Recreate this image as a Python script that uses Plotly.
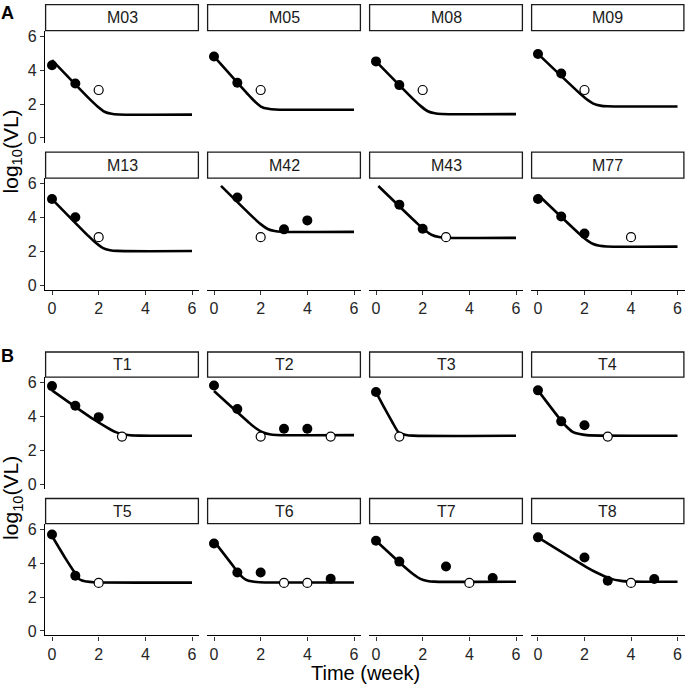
import plotly.graph_objects as go

# ---------------- data ----------------
SUBJECTS = ["M03", "M05", "M08", "M09", "M13", "M42", "M43", "M77",
            "T1", "T2", "T3", "T4", "T5", "T6", "T7", "T8"]

# observed log10 viral load (week, value, censored flag: 1 = below detection limit)
OBS_WEEK = [
    [0, 1, 2], [0, 1, 2], [0, 1, 2], [0, 1, 2],
    [0, 1, 2], [1, 2, 3, 4], [1, 2, 3], [0, 1, 2, 4],
    [0, 1, 2, 3], [0, 1, 2, 3, 4, 5], [0, 1], [0, 1, 2, 3],
    [0, 1, 2], [0, 1, 2, 3, 4, 5], [0, 1, 3, 4, 5], [0, 2, 3, 4, 5],
]
OBS_LOGVL = [
    [4.29, 3.22, 2.83], [4.81, 3.26, 2.83], [4.52, 3.12, 2.83], [4.96, 3.80, 2.83],
    [5.10, 4.03, 2.85], [5.19, 2.85, 3.31, 3.84], [4.77, 3.35, 2.85], [5.10, 4.07, 3.06, 2.85],
    [5.80, 4.64, 3.97, 2.82], [5.84, 4.45, 2.82, 3.29, 3.29, 2.82], [5.45, 2.82], [5.55, 3.72, 3.49, 2.82],
    [5.69, 3.26, 2.83], [5.16, 3.45, 3.45, 2.83, 2.83, 3.08], [5.32, 4.09, 3.80, 2.83, 3.12], [5.52, 4.33, 2.96, 2.83, 3.06],
]
OBS_CENSORED = [
    [0, 0, 1], [0, 0, 1], [0, 0, 1], [0, 0, 1],
    [0, 0, 1], [0, 1, 0, 0], [0, 0, 1], [0, 0, 0, 1],
    [0, 0, 0, 1], [0, 0, 1, 0, 0, 1], [0, 1], [0, 0, 0, 1],
    [0, 0, 1], [0, 0, 0, 1, 1, 0], [0, 0, 0, 1, 0], [0, 0, 0, 1, 0],
]

# fitted curves
CURVE_WEEK = [
    [0, 1.65, 1.95, 2.25, 2.55, 2.85, 6],
    [0, 1.43, 1.73, 2.03, 2.33, 2.63, 6],
    [0, 1.62, 1.92, 2.22, 2.52, 2.82, 6],
    [0, 1.78, 2.08, 2.38, 2.68, 2.98, 6],
    [0, 1.59, 1.89, 2.19, 2.49, 2.79, 6],
    [0.3, 1.7, 2.0, 2.3, 2.6, 2.9, 6],
    [0.1, 1.8, 2.1, 2.4, 2.7, 3.0, 6],
    [0, 1.75, 2.05, 2.35, 2.65, 2.95, 6],
    [0, 1.76, 2.26, 2.76, 3.26, 3.76, 6],
    [0, 1.48, 1.78, 2.08, 2.38, 2.68, 6],
    [0, 0.39, 0.69, 0.99, 1.29, 1.59, 6],
    [0, 0.89, 1.19, 1.49, 1.79, 2.09, 6],
    [0, 0.59, 0.89, 1.19, 1.49, 1.79, 6],
    [0, 0.76, 1.06, 1.36, 1.66, 1.96, 6],
    [0, 1.3, 1.6, 1.9, 2.2, 2.5, 6],
    [0, 2.08, 2.58, 3.08, 3.58, 4.08, 6],
]
CURVE_LOGVL = [
    [4.60, 2.25, 1.86, 1.55, 1.43, 1.39, 1.38],
    [4.81, 2.61, 2.18, 1.84, 1.72, 1.68, 1.67],
    [4.52, 2.26, 1.88, 1.58, 1.46, 1.42, 1.41],
    [4.96, 2.65, 2.30, 2.03, 1.91, 1.87, 1.86],
    [5.10, 2.88, 2.50, 2.20, 2.08, 2.04, 2.03],
    [5.88, 3.99, 3.62, 3.33, 3.21, 3.17, 3.16],
    [5.87, 3.62, 3.26, 2.98, 2.86, 2.82, 2.81],
    [5.35, 3.08, 2.73, 2.46, 2.34, 2.30, 2.29],
    [5.55, 3.86, 3.44, 3.07, 2.92, 2.88, 2.87],
    [5.51, 3.67, 3.33, 3.08, 2.96, 2.92, 2.91],
    [5.45, 4.44, 3.70, 3.04, 2.92, 2.88, 2.87],
    [5.55, 3.95, 3.46, 3.10, 2.97, 2.91, 2.87],
    [5.60, 4.25, 3.61, 3.03, 2.91, 2.87, 2.85],
    [5.30, 3.94, 3.40, 3.03, 2.91, 2.87, 2.86],
    [5.32, 3.68, 3.34, 3.07, 2.95, 2.91, 2.90],
    [5.52, 3.77, 3.40, 3.10, 2.95, 2.91, 2.90],
]

X_TICKS = [0, 2, 4, 6]
Y_TICKS = [0, 2, 4, 6]
X_TITLE = "Time (week)"
Y_TITLE = "log<sub>10</sub>(VL)"
SECTION_LABELS = ["A", "B"]

# ---------------- layout constants (pixels) ----------------
W, H = 685, 686
COL_X = [(45, 199), (207, 361), (369, 523), (531, 684.5)]
ROW_Y = [(28, 141), (177, 290), (378, 491), (526, 639)]
STRIP_Y = [(1, 28), (150, 177), (352, 378), (500, 526)]
FONT = "Liberation Sans, Arial, Helvetica, sans-serif"
TICK_COLOR = "#262626"


def px(x):
    return x / W


def py(y):
    return 1 - y / H


fig = go.Figure()
shapes, annotations = [], []

for i, name in enumerate(SUBJECTS):
    r, c = divmod(i, 4)
    k = i + 1
    xa = "x" if k == 1 else f"x{k}"
    ya = "y" if k == 1 else f"y{k}"

    fig.add_trace(go.Scatter(
        x=CURVE_WEEK[i], y=CURVE_LOGVL[i], mode="lines",
        line=dict(color="black", width=2.6, shape="spline", smoothing=0.8),
        xaxis=xa, yaxis=ya, showlegend=False, hoverinfo="skip"))

    fx = [t for t, cz in zip(OBS_WEEK[i], OBS_CENSORED[i]) if cz == 0]
    fy = [v for v, cz in zip(OBS_LOGVL[i], OBS_CENSORED[i]) if cz == 0]
    ox = [t for t, cz in zip(OBS_WEEK[i], OBS_CENSORED[i]) if cz == 1]
    oy = [v for v, cz in zip(OBS_LOGVL[i], OBS_CENSORED[i]) if cz == 1]
    fig.add_trace(go.Scatter(
        x=fx, y=fy, mode="markers",
        marker=dict(symbol="circle", size=10, color="black", line=dict(width=0)),
        xaxis=xa, yaxis=ya, showlegend=False, cliponaxis=False))
    fig.add_trace(go.Scatter(
        x=ox, y=oy, mode="markers",
        marker=dict(symbol="circle", size=9, color="white",
                    line=dict(width=1.2, color="black")),
        xaxis=xa, yaxis=ya, showlegend=False, cliponaxis=False))

    x0, x1 = COL_X[c]
    y0, y1 = ROW_Y[r]
    bottom_row = r in (1, 3)
    left_col = c == 0

    fig.update_layout(**{
        ("xaxis" if k == 1 else f"xaxis{k}"): dict(
            domain=[px(x0), px(x1)], range=[-0.3, 6.3], anchor=ya,
            showgrid=False, zeroline=False,
            showline=bottom_row, linecolor="black", linewidth=1.2,
            ticks="outside" if bottom_row else "", ticklen=4, tickwidth=1,
            tickcolor="#333333",
            showticklabels=bottom_row, tickvals=X_TICKS,
            tickfont=dict(family=FONT, size=16, color=TICK_COLOR)),
        ("yaxis" if k == 1 else f"yaxis{k}"): dict(
            domain=[py(y1), py(y0)], range=[-0.27, 6.33], anchor=xa,
            showgrid=False, zeroline=False,
            showline=left_col, linecolor="black", linewidth=1.2,
            ticks="outside" if left_col else "", ticklen=4, tickwidth=1,
            tickcolor="#333333",
            showticklabels=left_col, tickvals=Y_TICKS,
            tickfont=dict(family=FONT, size=16, color=TICK_COLOR)),
    })

    s0, s1 = STRIP_Y[r]
    shapes.append(dict(type="rect", xref="paper", yref="paper",
                       x0=px(x0 + 0.6), x1=px(x1 - 0.6), y0=py(s1), y1=py(s0 + 0.6),
                       line=dict(color="#1a1a1a", width=1.3), fillcolor="white"))
    annotations.append(dict(text=name, xref="paper", yref="paper",
                            x=px((x0 + x1) / 2), y=py((s0 + s1) / 2 + 0.5),
                            xanchor="center", yanchor="middle", showarrow=False,
                            font=dict(family=FONT, size=16, color="#1a1a1a")))

# section labels
for lab, ypx in zip(SECTION_LABELS, [10, 357]):
    annotations.append(dict(text=f"<b>{lab}</b>", xref="paper", yref="paper",
                            x=px(8), y=py(ypx), xanchor="center", yanchor="middle",
                            showarrow=False, font=dict(family=FONT, size=18, color="black")))

# y-axis titles
for ypx in [150, 500]:
    annotations.append(dict(text=Y_TITLE, xref="paper", yref="paper",
                            x=px(12), y=py(ypx), xanchor="center", yanchor="middle",
                            textangle=-90, showarrow=False,
                            font=dict(family=FONT, size=21, color="black")))

# x-axis title
annotations.append(dict(text=X_TITLE, xref="paper", yref="paper",
                        x=px(365), y=py(676.5), xanchor="center", yanchor="middle",
                        showarrow=False, borderpad=0,
                        font=dict(family=FONT, size=20, color="black")))

fig.update_layout(width=W, height=H, margin=dict(l=0, r=0, t=0, b=0),
                  paper_bgcolor="white", plot_bgcolor="white",
                  shapes=shapes, annotations=annotations, showlegend=False)

fig.write_html("out.html")
